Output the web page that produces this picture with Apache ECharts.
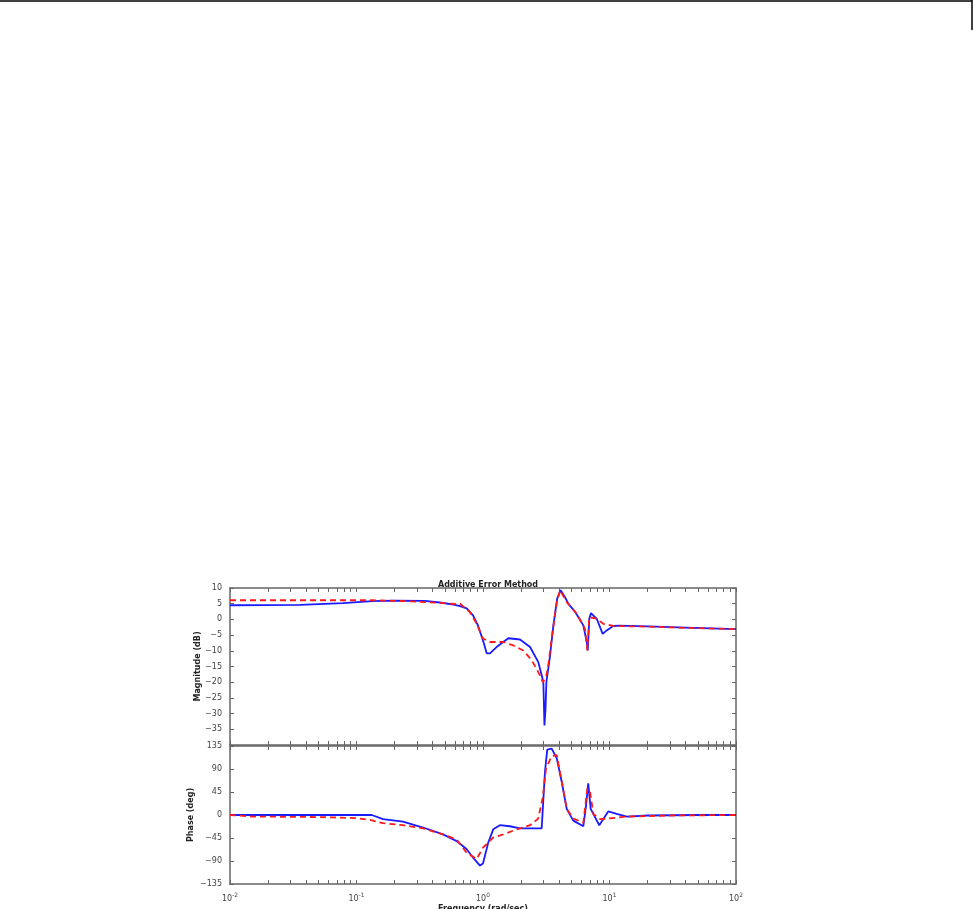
<!DOCTYPE html>
<html>
<head>
<meta charset="utf-8">
<script src="https://cdn.jsdelivr.net/npm/echarts@6/dist/echarts.min.js"></script>
<style>
  html, body { margin: 0; padding: 0; background: #fff; }
  #chart { width: 973px; height: 909px; }
</style>
</head>
<body>
<div id="chart"></div>
<script>
// frequency axis (rad/sec), decades shown as labels
var decades = [0.01, 0.1, 1, 10, 100];
var magTicks = [10, 5, 0, -5, -10, -15, -20, -25, -30, -35, -40];
var phaseTicks = [135, 90, 45, 0, -45, -90, -135];

// magnitude (dB) - original system (blue, solid)
var magOrigFreq = [0.01, 0.0357, 0.078, 0.133, 0.2, 0.348, 0.472, 0.6, 0.658, 0.743, 0.834, 0.912, 1.0, 1.07, 1.135, 1.28, 1.585, 1.96, 2.355, 2.735, 2.91, 3.0, 3.06, 3.12, 3.17, 3.39, 3.6, 3.86, 4.11, 4.45, 4.72, 5.33, 6.21, 6.61, 6.73, 6.92, 7.14, 7.93, 8.83, 9.5, 10.7, 12.1, 20, 40, 100];
var magOrig = [4.5, 4.6, 5.2, 5.8, 6.0, 5.9, 5.3, 4.6, 4.2, 3.5, 1.3, -1.9, -6.7, -10.8, -10.8, -8.8, -6.0, -6.4, -8.8, -13.6, -17.8, -20, -33.8, -28.5, -20, -11.5, -1.9, 6.6, 9.3, 7.1, 5.0, 2.5, -1.9, -7.2, -9.9, 0.2, 2.0, 0.2, -4.6, -3.5, -2.1, -2.0, -2.2, -2.6, -3.1];

// magnitude (dB) - reduced model (red, dashed)
var magRedFreq = [0.01, 0.133, 0.25, 0.348, 0.5, 0.6, 0.658, 0.789, 0.891, 1.0, 1.135, 1.445, 1.74, 2.08, 2.43, 2.82, 2.97, 3.15, 3.28, 3.49, 3.83, 4.07, 4.59, 5.51, 6.4, 6.68, 6.92, 7.93, 8.93, 10.7, 20, 50, 100];
var magRed = [6.1, 6.1, 5.8, 5.5, 5.2, 4.9, 5.0, 2.3, -1.4, -6.1, -7.2, -7.2, -8.3, -9.9, -13, -17.8, -20, -18.4, -14.6, -6.1, 5.5, 9.3, 5.5, 1.8, -3, -9.9, 0.7, 0.2, -1.4, -2.1, -2.3, -2.8, -3.1];

// phase (deg) - original system (blue, solid)
var phaseOrigFreq = [0.01, 0.132, 0.162, 0.233, 0.336, 0.483, 0.62, 0.743, 0.838, 0.946, 1.0, 1.10, 1.205, 1.36, 1.63, 1.96, 2.91, 3.09, 3.22, 3.49, 3.83, 4.19, 4.59, 5.17, 6.21, 6.52, 6.79, 7.10, 8.3, 9.77, 11.4, 13.7, 20, 50, 100];
var phaseOrig = [0, 0, -8, -13, -24.5, -38, -51, -67, -84, -99, -95, -54, -28, -20, -22, -26, -26, 85, 128, 130, 111, 65, 12, -11, -22, 18, 62, 12, -20, 7, 2, -3, -1, 0, 0];

// phase (deg) - reduced model (red, dashed)
var phaseRedFreq = [0.01, 0.015, 0.05, 0.1, 0.13, 0.162, 0.233, 0.336, 0.483, 0.62, 0.743, 0.891, 1.0, 1.205, 1.445, 1.85, 2.355, 2.73, 2.97, 3.15, 3.49, 3.83, 4.19, 4.59, 5.17, 6.21, 6.68, 7.01, 7.45, 8.41, 9.77, 13.7, 30, 100];
var phaseRed = [0, -3, -4, -6, -10, -16, -20, -26, -38, -48, -74, -86, -64, -44, -38, -28, -20, -7, 35, 91, 115, 117, 66, 12, -7, -15, 52, 46, 2, -8, -7, -3, -1, 0];

function pairs(xs, ys) {
  return xs.map(function (x, i) { return [x, ys[i]]; });
}

// minor tick positions 1..9 x each decade
var logTicks = [];
decades.forEach(function (d, i) {
  if (i === decades.length - 1) { logTicks.push(d); return; }
  for (var k = 1; k <= 9; k++) logTicks.push(+(d * k).toPrecision(3));
});

var axisColor = '#666';

function freqAxis(gridIndex, position, showLabels) {
  return {
    type: 'log', logBase: 10, gridIndex: gridIndex, position: position,
    min: 0.01, max: 100,
    axisLine: { show: true, onZero: false, lineStyle: { color: axisColor, width: 1.5 } },
    axisTick: { show: true, inside: true, length: 4, customValues: logTicks, lineStyle: { color: axisColor } },
    splitLine: { show: false },
    axisLabel: {
      show: showLabels, customValues: decades, margin: 8,
      color: '#444', fontSize: 8, fontFamily: 'DejaVu Sans',
      formatter: function (v) {
        var e = Math.round(Math.log10(v));
        return '{b|10}{s|' + e + '}';
      },
      rich: {
        b: { fontSize: 8, color: '#444', verticalAlign: 'bottom' },
        s: { fontSize: 6, color: '#444', verticalAlign: 'bottom', padding: [0, 0, 5, 0] }
      }
    },
    name: showLabels ? 'Frequency (rad/sec)' : '',
    nameLocation: 'middle', nameGap: 21, nameMoveOverlap: false,
    nameTextStyle: { color: '#222', fontSize: 8, fontWeight: 'bold', fontFamily: 'DejaVu Sans' }
  };
}

function valAxis(gridIndex, position, min, max, interval, showLabels, name, nameGap, hide) {
  return {
    type: 'value', gridIndex: gridIndex, position: position,
    min: min, max: max, interval: interval,
    axisLine: { show: true, onZero: false, lineStyle: { color: axisColor, width: 1.5 } },
    axisTick: { show: true, inside: true, length: 4, lineStyle: { color: axisColor } },
    splitLine: { show: false },
    axisLabel: {
      show: showLabels, color: '#444', fontSize: 8, fontFamily: 'DejaVu Sans', margin: 8,
      formatter: function (v) { return v === hide ? '' : String(v).replace('-', '\u2212'); }
    },
    name: name, nameLocation: 'middle', nameGap: nameGap, nameMoveOverlap: false,
    nameTextStyle: { color: '#222', fontSize: 8, fontWeight: 'bold', fontFamily: 'DejaVu Sans' }
  };
}

function line(name, xi, yi, xs, ys, color, dashed) {
  return {
    name: name, type: 'line', xAxisIndex: xi, yAxisIndex: yi,
    data: pairs(xs, ys), showSymbol: false, smooth: false, animation: false,
    lineStyle: { color: color, width: 1.8, type: dashed ? [6, 4] : 'solid' },
    z: dashed ? 3 : 2
  };
}

var chart = echarts.init(document.getElementById('chart'));
chart.setOption({
  backgroundColor: '#fff',
  animation: false,
  title: {
    text: 'Additive Error Method', left: 483, top: 576, textAlign: 'center',
    textStyle: { fontSize: 8, fontWeight: 'bold', color: '#222', fontFamily: 'DejaVu Sans' }
  },
  grid: [
    { left: 230, top: 588, width: 506, height: 157, outerBoundsMode: 'none' },
    { left: 230, top: 746, width: 506, height: 138, outerBoundsMode: 'none' }
  ],
  xAxis: [
    freqAxis(0, 'bottom', false),
    freqAxis(0, 'top', false),
    freqAxis(1, 'bottom', true),
    freqAxis(1, 'top', false)
  ],
  yAxis: [
    valAxis(0, 'left', -40, 10, 5, true, 'Magnitude (dB)', 28, -40),
    valAxis(0, 'right', -40, 10, 5, false, '', 0),
    valAxis(1, 'left', -135, 135, 45, true, 'Phase (deg)', 35),
    valAxis(1, 'right', -135, 135, 45, false, '', 0)
  ],
  series: [
    line('Original', 0, 0, magOrigFreq, magOrig, '#1a1aff', false),
    line('Reduced', 0, 0, magRedFreq, magRed, '#ff1a1a', true),
    line('Original', 2, 2, phaseOrigFreq, phaseOrig, '#1a1aff', false),
    line('Reduced', 2, 2, phaseRedFreq, phaseRed, '#ff1a1a', true)
  ],
  graphic: [
    { type: 'line', shape: { x1: 0, y1: 1, x2: 972, y2: 1 }, style: { stroke: '#000', lineWidth: 1.5 } },
    { type: 'line', shape: { x1: 972, y1: 0, x2: 972, y2: 30 }, style: { stroke: '#000', lineWidth: 1.5 } }
  ]
});
</script>
</body>
</html>
